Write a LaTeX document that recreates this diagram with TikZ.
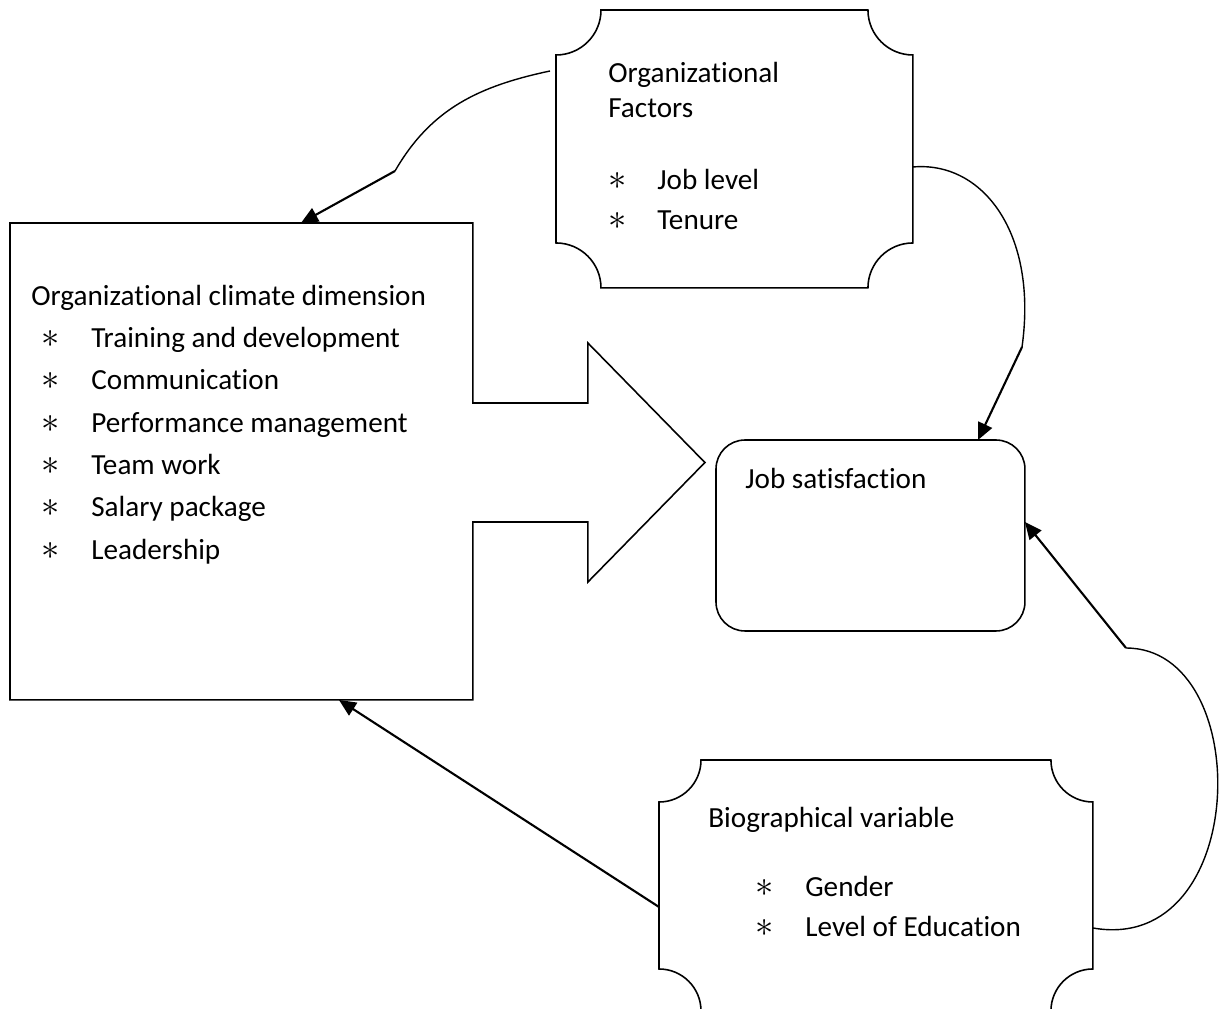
\documentclass[tikz,border=0pt]{standalone}
\usepackage{fontspec}
\setmainfont[RawFeature={-liga;-clig;-calt;-dlig}]{Carlito}
\usetikzlibrary{arrows.meta, positioning, calc}

% outline with concave (inward) corners
\newcommand{\plaque}[2]{%
  \draw[boxline] ([yshift=-#2]#1.north west) arc[start angle=270, end angle=360, radius=#2]
    -- ([xshift=-#2]#1.north east) arc[start angle=180, end angle=270, radius=#2]
    -- ([yshift=#2]#1.south east) arc[start angle=90, end angle=180, radius=#2]
    -- ([xshift=#2]#1.south west) arc[start angle=0, end angle=90, radius=#2]
    -- cycle;}
\newcommand{\bitem}[3]{\makebox[#2][l]{\hspace*{#1}{\fontsize{21pt}{21pt}\selectfont$\ast$}}#3}

\begin{document}
\begin{tikzpicture}[
    x=0.02cm, y=0.02cm,
    boxline/.style={line width=0.9pt},
    frame/.style={inner sep=0pt, outer sep=0pt, anchor=north west},
    txt/.style={font=\fontsize{16.6pt}{#1}\selectfont, inner sep=0pt, anchor=base west},
    txt/.default=24.1pt,
    link/.style={line width=0.8pt},
    arrow/.style={-{Triangle[length=0.34cm,width=0.3cm]}, line width=1.2pt},
]
    \useasboundingbox (0,0) rectangle (1229,-1008);

    % boxes
    \node[frame, minimum width=9.26cm, minimum height=9.54cm] (climate) at (10,-223) {};
    \draw[boxline] (climate.north west) -- (climate.north east) -- ++(0,-180) -- ++(115,0)
        -- ++(0,60) -- ++(117,-119.5) -- ++(-117,-119.5) -- ++(0,60) -- ++(-115,0)
        |- (climate.south west) -- cycle;

    \node[frame, minimum width=7.14cm, minimum height=5.56cm] (orgf) at (556,-10) {};
    \plaque{orgf}{0.9cm}

    \node[frame, minimum width=8.68cm, minimum height=5.02cm] (bio) at (659,-760) {};
    \plaque{bio}{0.84cm}

    \node[frame, draw, boxline, rounded corners=0.58cm, minimum width=6.18cm, minimum height=3.82cm] (js) at (716,-440) {};

    % texts
    \node[txt] (climatetxt) at (31,-305) {\begin{tabular}[t]{@{}l@{}}
        Organizational climate dimension\\
        \bitem{0.2cm}{1.2cm}{Training and development}\\
        \bitem{0.2cm}{1.2cm}{Communication}\\
        \bitem{0.2cm}{1.2cm}{Performance management}\\
        \bitem{0.2cm}{1.2cm}{Team work}\\
        \bitem{0.2cm}{1.2cm}{Salary package}\\
        \bitem{0.2cm}{1.2cm}{Leadership}
    \end{tabular}};
    \node[txt=20.4pt] (orgftxt) at (608,-82) {\begin{tabular}[t]{@{}l@{}}
        Organizational\\
        Factors\\[0.72cm]
        \bitem{0cm}{0.98cm}{Job level}\\[0.08cm]
        \bitem{0cm}{0.98cm}{Tenure}
    \end{tabular}};
    \node[txt=22.7pt] (biotxt) at (708,-827) {\begin{tabular}[t]{@{}l@{}}
        Biographical variable\\[0.6cm]
        \bitem{0.94cm}{1.94cm}{Gender}\\
        \bitem{0.94cm}{1.94cm}{Level of Education}
    \end{tabular}};
    \node[txt] (jstxt) at (745,-488) {Job satisfaction};

    % connectors
    \coordinate (bendA) at (395,-171);
    \draw[link] ([xshift=-0.12cm,yshift=-1.22cm]orgf.north west) to[out=192, in=60] (bendA);
    \draw[arrow] (bendA) -- ([xshift=5.82cm]climate.north west);

    \coordinate (bendB) at (1022,-347);
    \draw[link] ([yshift=-0.36cm]orgf.east) to[out=5, in=82, out distance=1.4cm, in distance=2.3cm] (bendB);
    \draw[arrow] (bendB) -- ([xshift=-0.94cm]js.north east);

    \coordinate (bendC) at (1126,-648);
    \draw[link] ([yshift=-0.85cm]bio.east) to[out=-10, in=0, out distance=3.2cm, in distance=2.6cm] (bendC);
    \draw[arrow] (bendC) -- ([yshift=0.27cm]js.east);

    \draw[arrow] ([yshift=-0.43cm]bio.west) -- ([xshift=6.58cm]climate.south west);
\end{tikzpicture}
\end{document}
